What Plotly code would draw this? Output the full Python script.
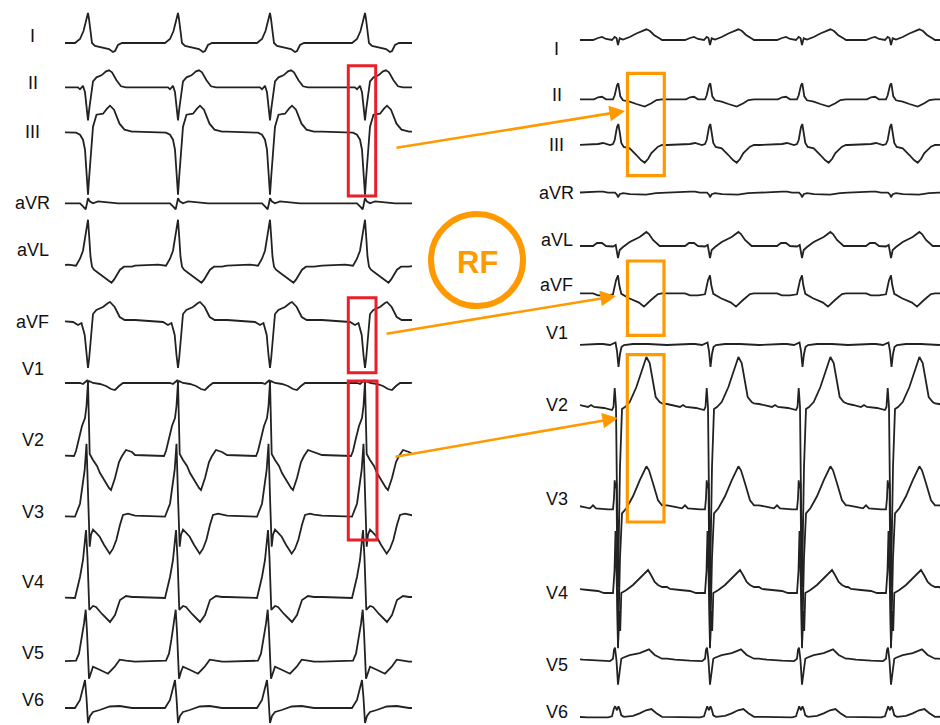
import plotly.graph_objects as go

# ---------------- DATA ----------------
LEADS = ["I", "II", "III", "aVR", "aVL", "aVF", "V1", "V2", "V3", "V4", "V5", "V6"]

# QRS times (horizontal time units) before (left) and after RF ablation (right)
LEFT_BEATS = [88, 178, 270, 365, 457]
RIGHT_BEATS = [527, 618, 710, 802, 891, 982]

# Beat templates: (time offset from QRS, amplitude)
L_I = [(-43,0),(-13,0),(-8,4),(-4.5,12),(-3,18),(-1.5,25),(0,30),(1,24),(2.3,13),(4,0),(7,-3),(15,-5),(21,-6),(25,-9),(27,-8),(30,-2),(34,0),(44,0)]
L_II = [(-43,0),(-10,0),(-8,-2),(-5,1.5),(-3,-5),(-1.5,-20),(0,-33),(1.2,-22),(2.5,-12),(4,0),(5,6),(8.5,10),(13.5,12),(18,16),(21,17),(24,15),(28.5,7),(33,1),(38,0),(44,0)]
L_III = [(-43,0),(-12,-1),(-8,-3),(-5,-8),(-3,-18),(-1.5,-42),(0,-63),(1.2,-45),(2.5,-25),(4,-5),(5,5),(8.5,17),(15,18),(19,23),(22,26),(26,22),(31.5,8),(36.5,2),(44,0)]
L_aVR = [(-43,0),(-8,0),(-5,-3),(-2.3,-6),(-1,0),(0,5),(1.7,2),(5,0),(10,2),(20,1),(30,0),(44,0)]
L_aVL = [(-43,1),(-20,2),(-12,1),(-8,8),(-5,16),(-2.5,30),(0,47),(1.2,30),(2.5,10),(4,0),(6,-3),(10,-6),(15,-10),(20,-14),(23.5,-16),(26,-13),(29,-8),(32,-3),(36,0),(44,0)]
L_aVF = [(-43,0),(-15,-2),(-10,-5),(-6.5,-3),(-3.3,-15),(-1.5,-35),(0,-48),(1.2,-38),(2.4,-23),(4,-3),(5,6),(8.4,10),(15,13),(20,17),(22,18),(26.7,13),(31.7,3),(36.7,0),(44,0)]
L_V1 = [(-43,0),(-8,0),(-5,-1),(-3,0.5),(-1,2.5),(0,0),(1,2),(3,1),(5,0),(12,-1),(18,-3),(23,-6),(27,-7),(31,-3),(35,0),(44,0)]
L_V2 = [(-43,1),(-14,0),(-12,5),(-9,18),(-6,30),(-3,38),(-1.5,50),(0,74),(0.8,40),(1.7,2),(5,-4),(9,-10),(12,-17),(17,-26),(21,-32),(23,-34),(27,-22),(31,-6),(34,0),(38,6),(44,4)]
L_V3 = [(-43,1),(-13,0),(-8,13),(-3.3,47),(-1.5,73),(0,20),(1.7,-30),(3,-18),(5,-13),(8,-16),(11.7,-20),(16,-28),(21.7,-37),(25,-32),(28.4,-23),(32,-8),(35,1.7),(40,3),(44,2)]
L_V4 = [(-43,1),(-13,0),(-8,21),(-5,38),(-2,68),(-0.5,40),(1.3,-12),(3,-10),(5,-8),(8,-9),(14,-16),(22,-24),(27,-17),(32,-2),(38,2),(44,1)]
L_V5 = [(-43,0),(-12,1),(-9,8),(-6.6,22),(-4,38),(-2.3,52),(-1,30),(1,-17),(3,-10),(5,-5),(11.7,-8),(20,-12),(26.7,-5),(31.7,2),(38,1),(44,0)]
L_V6 = [(-43,0),(-13,0),(-8,8),(-5,21),(-3,28),(-1.5,10),(0,-15),(2,-8),(5,-4),(11.7,-2),(21.7,1.5),(31.7,2),(40,0.5),(44,0)]

R_I = [(-43,0),(-25,0),(-20,2),(-16,3),(-12,1),(-6,0),(-3.3,3),(-1.5,2),(0,-5),(1.7,1.7),(5,0.5),(11.7,3),(18.4,6.5),(24,9),(28.4,10.7),(32,9),(36,5),(41.7,1.5),(44,0)]
R_II = [(-43,0),(-24,0),(-20,2),(-16,2.5),(-12,0),(-5,0),(-3.3,4),(-1,14),(0.3,16),(2.3,3),(5,-1),(11.7,-2.3),(18.4,-4.7),(26.7,-7.3),(33.4,-4),(38.4,-0.7),(44,0)]
R_III = [(-43,0),(-20,1),(-15,2),(-8,0),(-5,1),(-3.3,5),(-1,18),(0.3,21),(1.7,13),(3.3,2),(5.7,-2),(11.7,-3.3),(18.4,-10),(23,-15),(26.7,-17.7),(30,-14),(33.4,-8),(40,-1.7),(44,0)]
R_aVR = [(-43,0),(-20,1),(-15,1),(-10,0),(-3,0),(-1,-2),(0,-4.5),(1.7,-1.5),(5,-0.5),(12,-1.5),(28,-2),(38,-0.5),(44,0)]
R_aVL = [(-43,0),(-25,0),(-21,3),(-16,3),(-12,0),(-5,-0.5),(-2.3,1),(0,-12),(1.7,-4),(5,-1),(11.7,4),(21.7,9),(28.4,14),(31,12),(35,6),(41.7,0),(44,0)]
R_aVF = [(-43,0),(-25,0),(-20,-2),(-12,-2),(-5,-1),(-2,13),(0,18),(1.3,8),(3.3,-0.5),(11,-5),(21,-9.3),(26,-13.3),(33,-6.7),(40,-0.7),(44,0)]
R_V1 = [(-43,0),(-20,1),(-15,1),(-8,0),(-2.5,2.5),(-1,-6),(0.5,-22),(2,-9),(3.5,-2),(6,0),(15,1),(30,1),(44,0)]
R_V2 = [(-43,3),(-38,2),(-30,0),(-27,2),(-24,0),(-14,-1),(-6,-3),(-4.5,0),(-3.3,19),(-2,0),(0,-180),(2,-60),(4,-2),(7,0),(11.7,5),(18.4,20),(23.4,34),(28.4,50),(31.7,44),(35,27),(37.7,10),(41.7,5),(44,3.5)]
R_V3 = [(-43,3),(-35,1.5),(-28,0),(-25,3),(-22,0),(-10,-1),(-5,-1),(-4,10),(-3.3,28),(-2.5,20),(-1.5,25),(0,-140),(2,-50),(4,-5),(8.4,0),(15,12),(21.7,28),(28.4,42),(31,38),(35,25),(40,8),(44,3)]
R_V4 = [(-43,4),(-40,2),(-30,1),(-20,0),(-14,-2),(-5,-2),(-3.5,20),(-2.5,60),(-1.5,20),(0,-55),(1.2,-20),(2.2,-40),(3.3,-2),(8.4,1),(15,6),(21.7,12.7),(27,18),(30,21),(33,16),(36.7,9),(40,6),(44,4)]
R_V5 = [(-43,2),(-35,1),(-20,0),(-8,-0.5),(-5,2),(-4,11),(-3,13),(-1.5,0),(0,-24),(1.7,-9),(3.3,2),(5,3),(11.7,5.5),(21.7,7.5),(28,10),(31,11.3),(36.7,5.7),(44,2)]
R_V6 = [(-43,0.5),(-30,0),(-10,0),(-6,1),(-4,9),(-2.8,11),(-1,7),(0.5,11),(1.7,8),(3.3,2),(6,0.5),(15,1.5),(21.7,4),(28,7),(33.4,8.3),(38.4,4),(44,0.5)]

LEFT_TEMPLATES = [L_I, L_II, L_III, L_aVR, L_aVL, L_aVF, L_V1, L_V2, L_V3, L_V4, L_V5, L_V6]
RIGHT_TEMPLATES = [R_I, R_II, R_III, R_aVR, R_aVL, R_aVF, R_V1, R_V2, R_V3, R_V4, R_V5, R_V6]

PANEL_LABEL = "RF"

# ---------------- LAYOUT (positions / styles) ----------------
W, H = 940, 725
LEFT_BASE = [43, 87.3, 131.7, 203.3, 266.7, 320, 383, 456, 516.7, 598, 661.7, 708]
RIGHT_BASE = [40, 99.3, 145, 192.7, 246, 293.3, 345, 407, 508.3, 591, 660.7, 717.3]
LEFT_LABEL_Y = [36, 83, 132, 203, 250, 321.7, 369, 440, 511.7, 581.7, 652.7, 700]
RIGHT_LABEL_Y = [49, 95, 145, 192.7, 240, 285, 333, 405, 499.3, 593.3, 665, 711.7]
LEFT_LABEL_X, RIGHT_LABEL_X = 32.5, 556.7
LEFT_X = (65, 412)
RIGHT_X = (580, 940)

INK = "#222222"
RED = "#E8202A"
ORANGE = "#FF9900"
FONT = "Liberation Sans, Arial, sans-serif"


def build(beats, tmpl, base):
    xs, ys = [], []
    for b in beats:
        for dt, a in tmpl:
            xs.append(b + dt)
            ys.append(base - a)
    return xs, ys


fig = go.Figure()
for i, lead in enumerate(LEADS):
    x, y = build(LEFT_BEATS, LEFT_TEMPLATES[i], LEFT_BASE[i])
    fig.add_trace(go.Scatter(x=x, y=y, mode="lines", xaxis="x", yaxis="y",
                             line=dict(color=INK, width=1.8), name=lead + " pre",
                             hoverinfo="skip", showlegend=False))
    x, y = build(RIGHT_BEATS, RIGHT_TEMPLATES[i], RIGHT_BASE[i])
    fig.add_trace(go.Scatter(x=x, y=y, mode="lines", xaxis="x2", yaxis="y2",
                             line=dict(color=INK, width=1.8), name=lead + " post",
                             hoverinfo="skip", showlegend=False))

hidden = dict(visible=False, showgrid=False, zeroline=False, fixedrange=True)
fig.update_layout(
    width=W, height=H, margin=dict(l=0, r=0, t=0, b=0),
    paper_bgcolor="white", plot_bgcolor="rgba(0,0,0,0)",
    xaxis=dict(domain=[LEFT_X[0] / W, LEFT_X[1] / W], range=list(LEFT_X), anchor="y", **hidden),
    yaxis=dict(domain=[0, 1], range=[H, 0], anchor="x", **hidden),
    xaxis2=dict(domain=[RIGHT_X[0] / W, RIGHT_X[1] / W], range=list(RIGHT_X), anchor="y2", **hidden),
    yaxis2=dict(domain=[0, 1], range=[H, 0], anchor="x2", **hidden),
    xaxis3=dict(domain=[0, 1], range=[0, W], anchor="y3", **hidden),
    yaxis3=dict(domain=[0, 1], range=[H, 0], anchor="x3", **hidden),
    showlegend=False,
)
# empty trace to activate the overlay axes used for labels and marks
fig.add_trace(go.Scatter(x=[], y=[], xaxis="x3", yaxis="y3", showlegend=False))

annotations = []
for i, lead in enumerate(LEADS):
    for lx, ly in ((LEFT_LABEL_X, LEFT_LABEL_Y[i]), (RIGHT_LABEL_X, RIGHT_LABEL_Y[i])):
        annotations.append(dict(x=lx, y=ly, xref="x3", yref="y3", text=lead, showarrow=False,
                                xanchor="center", yanchor="middle",
                                font=dict(family=FONT, size=18, color="#111111")))

# arrows (tail -> head)
ARROWS = [((395, 148), (625, 111)), ((385, 334), (616, 296)), ((394, 457), (618, 418))]
for (tx, ty), (hx, hy) in ARROWS:
    annotations.append(dict(x=hx, y=hy, ax=tx, ay=ty, xref="x3", yref="y3", axref="x3", ayref="y3",
                            text="", showarrow=True, arrowhead=2, arrowsize=1.2, arrowwidth=2.6,
                            arrowcolor=ORANGE, standoff=0, startstandoff=0))

annotations.append(dict(x=477, y=262, xref="x3", yref="y3", text="<b>%s</b>" % PANEL_LABEL,
                        showarrow=False, xanchor="center", yanchor="middle",
                        font=dict(family=FONT, size=31, color=ORANGE)))

shapes = []
RED_BOXES = [(348.3, 65.7, 375.7, 196), (348.3, 297.7, 376, 372.7), (348.3, 381, 377, 540)]
for x0, y0, x1, y1 in RED_BOXES:
    shapes.append(dict(type="rect", xref="x3", yref="y3", x0=x0, y0=y0, x1=x1, y1=y1,
                       line=dict(color=RED, width=3), layer="above"))
ORANGE_BOXES = [(627.5, 73.3, 664.3, 175.7), (627.5, 261, 664, 335.3), (627.3, 354.7, 664, 522)]
for x0, y0, x1, y1 in ORANGE_BOXES:
    shapes.append(dict(type="rect", xref="x3", yref="y3", x0=x0, y0=y0, x1=x1, y1=y1,
                       line=dict(color=ORANGE, width=3.2), layer="above"))
shapes.append(dict(type="circle", xref="x3", yref="y3", x0=477 - 46, y0=260 - 46, x1=477 + 46, y1=260 + 46,
                   line=dict(color=ORANGE, width=6), layer="above"))

fig.update_layout(annotations=annotations, shapes=shapes)
fig.write_html("out.html", config={"displayModeBar": False, "staticPlot": True},
               post_script="document.body.style.margin='0';document.body.style.padding='0';")
